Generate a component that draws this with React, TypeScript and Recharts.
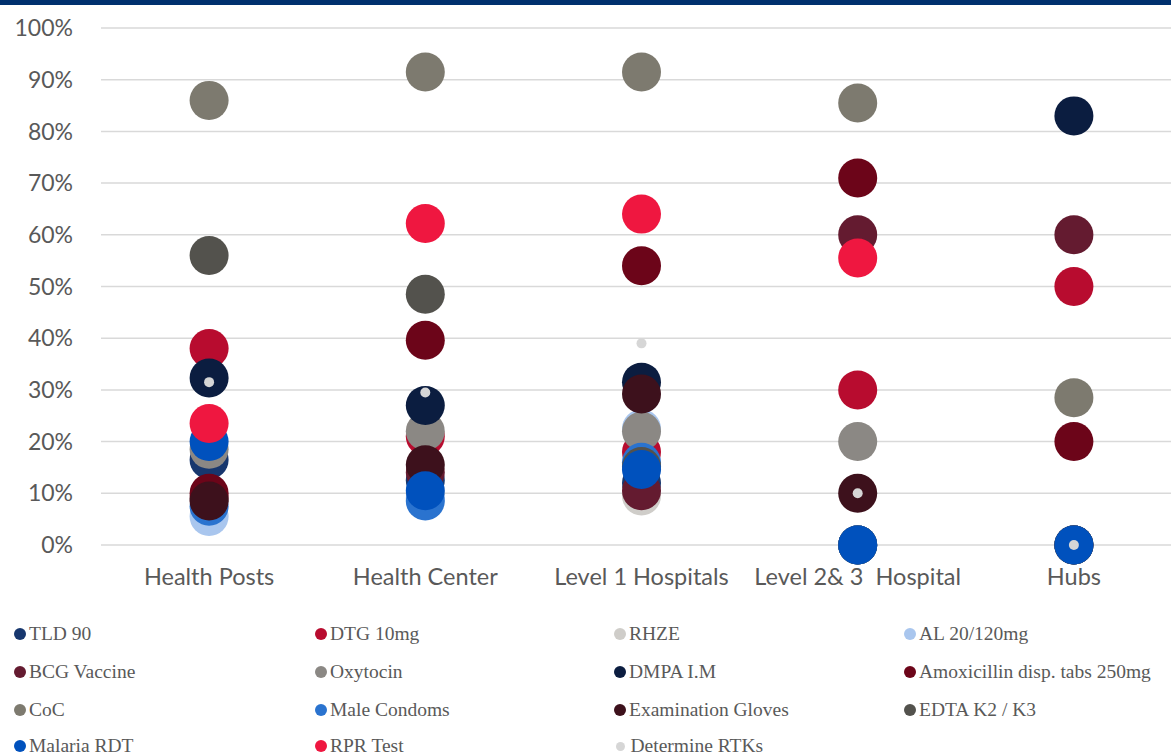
import { ScatterChart, Scatter, XAxis, YAxis, CartesianGrid } from 'recharts'

const categories = ['Health Posts', 'Health Center', 'Level 1 Hospitals', 'Level 2& 3\u00a0 Hospital', 'Hubs']
const yTicks = [0, 10, 20, 30, 40, 50, 60, 70, 80, 90, 100]

// values in %, one per category (Health Posts .. Hubs); null = no point
const tld90 = [16.5, 12.5, 12, 0, 0]
const dtg10 = [38, 21, 18, 30, 50]
const rhze = [9, 10, 9.5, 0, 0]
const al20 = [5.5, 9, 22.5, 0, 0]
const bcg = [9, 14, 10.5, 60, 60]
const oxytocin = [18.5, 22, 22, 20, 0]
const dmpa = [32.3, 27, 31.5, 0, 83]
const amoxicillin = [10, 39.6, 54, 71, 20]
const coc = [86, 91.5, 91.5, 85.5, 28.5]
const maleCondoms = [7.5, 8.5, 16, 0, 0]
const gloves = [8.5, 15.5, 29.2, 10, 0]
const edta = [56, 48.5, 15.2, 0, 0]
const malariaRdt = [20, 10.5, 14.6, 0, 0]
const rprTest = [23.5, 62.2, 64, 55.5, null]
const determine = [31.5, 29.5, 39, 10, 0]

const series = [
  { name: 'TLD 90', values: tld90, color: '#17376e', r: 19.5 },
  { name: 'DTG 10mg', values: dtg10, color: '#b80c2f', r: 19.5 },
  { name: 'RHZE', values: rhze, color: '#cfcdc9', r: 19.5 },
  { name: 'AL 20/120mg', values: al20, color: '#a9c6ee', r: 19.5 },
  { name: 'BCG Vaccine', values: bcg, color: '#641b30', r: 19.5 },
  { name: 'Oxytocin', values: oxytocin, color: '#8b8884', r: 19.5 },
  { name: 'DMPA I.M', values: dmpa, color: '#0b1d40', r: 19.5 },
  { name: 'Amoxicillin disp. tabs 250mg', values: amoxicillin, color: '#6c0519', r: 19.5 },
  { name: 'CoC', values: coc, color: '#7d7a6f', r: 19.5 },
  { name: 'Male Condoms', values: maleCondoms, color: '#2a73cf', r: 19.5 },
  { name: 'Examination Gloves', values: gloves, color: '#3d111c', r: 19.5 },
  { name: 'EDTA K2 / K3', values: edta, color: '#53524d', r: 19.5 },
  { name: 'Malaria RDT', values: malariaRdt, color: '#0051bd', r: 19.5 },
  { name: 'RPR Test', values: rprTest, color: '#ef1740', r: 19.5 },
  { name: 'Determine RTKs', values: determine, color: '#d6d6d6', r: 5 },
]

const LEGEND_X = [20, 321, 620, 910]
const LEGEND_Y = [634, 672, 710, 746]

const font = 'Lato, sans-serif'

export default function App() {
  return (
    <div style={{ position: 'absolute', left: 0, top: 0, width: 1171, height: 755, overflow: 'hidden', background: '#fff' }}>
      <div style={{ position: 'absolute', left: 0, top: 0, width: 1171, height: 5, background: '#00306e' }} />
      <div style={{ position: 'absolute', left: 0, top: 0 }}>
        <ScatterChart width={1190} height={600} margin={{ top: 28, right: 8, bottom: 15, left: 0 }}>
          <CartesianGrid horizontal vertical={false} stroke="#d9d9d9" strokeWidth={1.5} />
          <XAxis
            type="number"
            dataKey="x"
            height={40}
            domain={[-0.5, 4.5]}
            ticks={[0, 1, 2, 3, 4]}
            interval={0}
            tickFormatter={(i: number) => categories[i]}
            axisLine={false}
            tickLine={false}
            tick={{ fill: '#595959', fontSize: 23.5, fontFamily: font }}
            tickMargin={17}
          />
          <YAxis
            type="number"
            dataKey="y"
            width={101}
            domain={[0, 100]}
            ticks={yTicks}
            interval={0}
            tickFormatter={(v: number) => `${v}%`}
            axisLine={false}
            tickLine={false}
            tick={{ fill: '#595959', fontSize: 23, fontFamily: font }}
            tickMargin={22}
          />
          {series.map((s) => (
            <Scatter
              key={s.name}
              name={s.name}
              data={s.values
                .map((v, i) => ({ x: i, y: v }))
                .filter((d) => d.y !== null)}
              isAnimationActive={false}
              // eslint-disable-next-line @typescript-eslint/no-explicit-any
              shape={(p: any) => <circle cx={p.cx} cy={p.cy} r={s.r} fill={s.color} />}
            />
          ))}
        </ScatterChart>
      </div>
      {series.map((s, i) => (
        <div
          key={s.name}
          style={{
            position: 'absolute',
            left: LEGEND_X[i % 4] - 6,
            top: LEGEND_Y[Math.floor(i / 4)] - 12,
            height: 24,
            display: 'flex',
            alignItems: 'center',
            fontFamily: '"Liberation Serif", serif',
            fontSize: 19.5,
            color: '#595959',
            whiteSpace: 'nowrap',
          }}
        >
          <span
            style={{
              display: 'inline-block',
              width: s.r < 10 ? 9 : 12,
              height: s.r < 10 ? 9 : 12,
              borderRadius: '50%',
              background: s.color,
              marginRight: s.r < 10 ? 6 : 3,
              marginLeft: s.r < 10 ? 1.5 : 0,
            }}
          />
          {s.name}
        </div>
      ))}
    </div>
  )
}
